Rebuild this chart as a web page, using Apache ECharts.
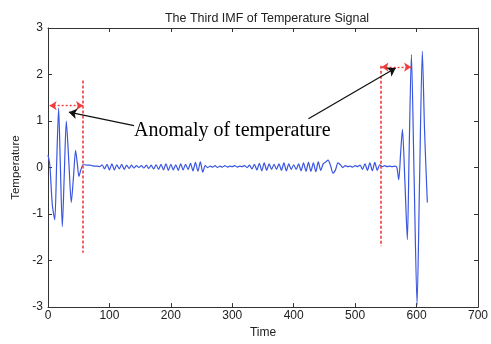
<!DOCTYPE html>
<html>
<head>
<meta charset="utf-8">
<script src="https://cdn.jsdelivr.net/npm/echarts@6/dist/echarts.min.js"></script>
<style>html,body{margin:0;padding:0;background:#fff;}#c{width:491px;height:344px;}</style>
</head>
<body>
<div id="c"></div>
<script>
// Left anomaly burst
var leftTimes = [0, 3, 7, 11, 14, 17.3, 20, 23.3, 26.5, 29.8, 34, 37.9, 41.5, 44.9, 48, 50.3, 53.5, 57];
var leftVals  = [0.27, 0.05, -0.8, -1.12, 0.05, 1.28, 0.1, -1.27, -0.15, 1.0, 0.1, -0.75, -0.2, 0.37, 0.05, -0.19, -0.05, 0.06];
// Small ripples between the anomalies (time step 4 from 60)
var rippleStart = 60, rippleStep = 4;
var rippleVals = [
  0.06, 0.05, 0.05, 0.04, 0.03, 0.03, 0.02,
  0.06, -0.03, 0.07, -0.05, 0.08, -0.05, 0.06, -0.03, 0.07, -0.04, 0.05, -0.02, 0.05, -0.01, 0.04, 0.0,
  0.04, -0.01, 0.05, -0.02, 0.05, -0.03, 0.06, -0.04, 0.07, -0.05, 0.08, -0.06,
  0.07, -0.05, 0.06, -0.06, 0.08, -0.05, 0.07, -0.04, 0.09, -0.07, 0.11, -0.08, 0.12, -0.10, 0.04,
  0.0, 0.03, 0.01, 0.04, 0.0, 0.03, 0.01, 0.04, 0.01, 0.03, 0.02, 0.04, 0.01, 0.03, 0.02, 0.04, 0.0, 0.05,
  -0.03, 0.07, -0.05, 0.09, -0.07, 0.10, -0.06, 0.08, -0.04, 0.07, -0.04, 0.08, -0.06, 0.10, -0.07,
  0.08, -0.04, 0.06, -0.04, 0.08, -0.07, 0.10, -0.08, 0.11, -0.08, 0.10, -0.09, 0.12, -0.06, 0.08,
  0.12, 0.16, 0.04, -0.12, -0.05, 0.10, 0.06, 0.0,
  0.04, 0.02, 0.03, 0.01, 0.04, 0.02, 0.05,
  -0.04, 0.08, -0.06, 0.10, -0.07, 0.11, -0.06, 0.06,
  0.02, 0.04, 0.02, 0.03
];
// Right anomaly burst
var rightTimes = [560, 565, 568, 571, 574, 577, 581, 585, 588, 591.6, 596, 600.8, 605, 609.4, 613, 617.5];
var rightVals  = [0.02, 0.03, 0.0, -0.26, 0.3, 0.82, -0.3, -1.55, 0.4, 2.43, -0.2, -2.95, -0.2, 2.5, 0.8, -0.75];

var xTicks = [0, 100, 200, 300, 400, 500, 600, 700];
var yTicks = [-3, -2, -1, 0, 1, 2, 3];

var data = [];
leftTimes.forEach(function (t, i) { data.push([t, leftVals[i]]); });
rippleVals.forEach(function (v, i) { data.push([rippleStart + i * rippleStep, v]); });
rightTimes.forEach(function (t, i) { data.push([t, rightVals[i]]); });

var chart = echarts.init(document.getElementById('c'), null, {renderer: 'canvas'});
var axisCol = '#333';
var red = '#f03c3c';
var font = 'Liberation Sans, Arial, sans-serif';
chart.setOption({
  animation: false,
  backgroundColor: '#fff',
  title: {
    text: 'The Third IMF of Temperature Signal',
    left: 262, top: 7, textAlign: 'center',
    textStyle: {fontSize: 12.5, fontWeight: 'normal', color: '#222', fontFamily: font}
  },
  grid: {left: 48, right: 11, top: 28, bottom: 30},
  xAxis: [{
    type: 'value', min: 0, max: 700, interval: 100, position: 'bottom',
    name: 'Time', nameLocation: 'middle', nameGap: 13,
    nameTextStyle: {fontSize: 12, color: '#222', fontFamily: font},
    axisLine: {onZero: false, lineStyle: {color: axisCol}},
    axisTick: {inside: true, length: 4, lineStyle: {color: axisCol}},
    axisLabel: {fontSize: 12, color: '#222', margin: 3, fontFamily: font},
    splitLine: {show: false}
  }, {
    type: 'value', min: 0, max: 700, interval: 100, position: 'top',
    axisLine: {onZero: false, lineStyle: {color: axisCol}},
    axisTick: {inside: true, length: 4, lineStyle: {color: axisCol}},
    axisLabel: {show: false}, splitLine: {show: false}
  }],
  yAxis: [{
    type: 'value', min: -3, max: 3, interval: 1, position: 'left',
    name: 'Temperature', nameLocation: 'middle', nameGap: 23, nameRotate: 90,
    nameTextStyle: {fontSize: 11.5, color: '#222', fontFamily: font},
    axisLine: {onZero: false, lineStyle: {color: axisCol}},
    axisTick: {inside: true, length: 4, lineStyle: {color: axisCol}},
    axisLabel: {fontSize: 12, color: '#222', margin: 5, fontFamily: font},
    splitLine: {show: false}
  }, {
    type: 'value', min: -3, max: 3, interval: 1, position: 'right',
    axisLine: {onZero: false, lineStyle: {color: axisCol}},
    axisTick: {inside: true, length: 4, lineStyle: {color: axisCol}},
    axisLabel: {show: false}, splitLine: {show: false}
  }],
  series: [{
    type: 'line',
    data: data,
    showSymbol: false,
    smooth: 0.25,
    lineStyle: {color: '#3a56e0', width: 1.2},
    markLine: {
      silent: true,
      animation: false,
      label: {show: false},
      data: [
        [{coord: [57, 1.87], symbol: 'none', lineStyle: {color: red, type: [3, 2], width: 1.6}},
         {coord: [57, -1.83], symbol: 'none'}],
        [{coord: [542, 2.19], symbol: 'none', lineStyle: {color: red, type: [3, 2], width: 1.6}},
         {coord: [542, -1.69], symbol: 'none'}],
        [{coord: [2.7, 1.33], symbol: 'arrow', symbolSize: 7, lineStyle: {color: red, type: [2, 2], width: 1.4}},
         {coord: [57, 1.33], symbol: 'arrow', symbolSize: 7}],
        [{coord: [543, 2.16], symbol: 'arrow', symbolSize: 7, lineStyle: {color: red, type: [2, 2], width: 1.4}},
         {coord: [591, 2.16], symbol: 'arrow', symbolSize: 7}],
        [{coord: [140, 0.90], symbol: 'none', lineStyle: {color: '#111', type: 'solid', width: 1.3}},
         {coord: [34, 1.19], symbol: 'arrow', symbolSize: 8}],
        [{coord: [424, 1.05], symbol: 'none', lineStyle: {color: '#111', type: 'solid', width: 1.3}},
         {coord: [566, 2.14], symbol: 'arrow', symbolSize: 8}]
      ]
    }
  }],
  graphic: [{
    type: 'text', left: 134, top: 121,
    style: {text: 'Anomaly of temperature', fontSize: 20, fontFamily: 'Liberation Serif, Times New Roman, serif', fill: '#000'}
  }]
});
</script>
</body>
</html>
